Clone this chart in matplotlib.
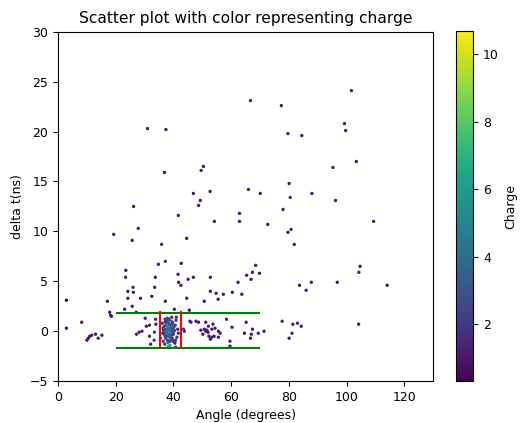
import matplotlib
matplotlib.use("Agg")
import matplotlib.pyplot as plt

plt.rcParams['font.size'] = 9

# points spread out (angle, delta t, charge)
angle = [31.0, 37.4, 36.9, 50.4, 49.6, 46.9, 52.7, 49.3, 48.7, 26.2, 41.7, 62.9, 54.2, 62.9,
         27.8, 19.3, 25.7, 44.6, 101.7, 66.7, 77.4, 99.3, 99.7, 79.7, 84.5, 103.4, 95.3, 80.1,
         66.0, 70.1, 88.0, 80.5, 96.2, 78.0, 109.4, 72.7, 80.8, 79.7, 81.9, 68.5, 67.4, 69.8,
         65.4, 66.9, 104.7, 104.3, 87.8, 83.7, 86.0, 96.8, 114.1, 63.7, 65.2, 77.7, 81.4, 83.0,
         84.3, 104.2, 67.4, 64.6, 67.0, 69.4, 71.4, 66.7, 81.1, 80.1,
         35.9, 37.2, 34.8, 42.7, 23.5, 23.4, 33.7, 41.6, 46.9, 45.1, 52.8, 62.4, 41.8, 42.6,
         33.5, 26.0, 26.1, 24.2, 52.8, 54.8, 57.3, 60.4, 32.5, 28.6, 24.2, 44.6, 55.5, 25.7,
         17.1, 2.9, 37.2, 23.1, 50.7, 45.5, 17.9, 18.2, 18.5, 27.1, 40.3, 8.2, 2.9,
         10.0, 10.5, 11.0, 11.7, 13.0, 15.2, 13.9, 30.2, 33.8, 33.9, 31.7, 30.6, 29.1, 28.1,
         27.2, 31.7, 33.3, 32.1, 33.4, 45.7, 46.1, 47.8, 48.7, 51.2, 52.1, 53.7, 58.4, 43.5,
         43.8, 49.5, 50.7, 51.6, 52.0, 51.2, 53.3, 54.4, 55.6, 56.2, 54.1, 52.8, 50.2, 52.3,
         53.3, 55.6, 59.6, 59.6, 60.3, 40.8, 35.5]
delta_t = [20.3, 20.2, 15.9, 16.5, 16.1, 13.8, 14.0, 13.1, 12.6, 12.5, 11.6, 11.8, 11.0, 11.0,
           10.3, 9.7, 9.1, 9.3, 24.1, 23.1, 22.6, 20.8, 20.1, 19.8, 19.6, 17.0, 16.4, 14.8,
           14.2, 13.8, 13.8, 13.4, 13.1, 12.2, 11.0, 10.7, 10.2, 9.9, 8.7, 6.6, 5.9, 5.8,
           5.6, 5.2, 6.5, 5.9, 4.9, 4.6, 4.1, 4.9, 4.6, 3.7, 0.9, 1.0, 0.7, 0.8,
           0.5, 0.7, 0.2, -0.2, -0.3, -0.2, 0.0, -0.7, -0.2, -0.7,
           8.7, 7.0, 6.7, 6.8, 6.1, 5.4, 5.4, 5.7, 5.4, 5.2, 5.4, 4.9, 4.9, 4.6,
           4.4, 4.4, 3.9, 4.0, 4.0, 3.8, 3.7, 3.9, 3.5, 3.3, 3.3, 3.3, 3.2, 2.5,
           3.0, 3.1, 3.0, 2.2, 3.0, 2.1, 1.9, 1.6, 1.5, 1.9, 2.2, 0.9, 0.3,
           -0.9, -0.7, -0.5, -0.4, -0.3, -0.4, -0.7, 1.3, 1.2, 0.7, 0.6, 0.5, 0.0, -0.1,
           -0.3, -0.5, -0.9, -1.3, -0.1, 1.0, 0.9, 1.0, 0.9, 0.9, 0.5, 0.7, 1.2, 0.2,
           0.0, 0.1, 0.2, 0.1, -0.1, 0.0, 0.2, 0.3, 0.0, -0.2, -0.5, -0.8, -0.3, -0.5,
           -0.6, -0.6, -1.0, -1.5, 0.4, -1.6, -0.7]
charge = [1.0, 1.1, 0.9, 1.0, 1.2, 1.0, 0.9, 1.1, 1.0, 1.0, 1.2, 1.0, 0.9, 1.0,
          1.1, 1.0, 1.0, 0.9, 1.0, 1.1, 1.0, 1.0, 0.9, 1.2, 1.0, 1.0, 1.1, 1.0,
          1.0, 0.9, 1.0, 1.1, 1.0, 1.0, 1.0, 1.2, 1.0, 0.9, 1.0, 1.1, 1.0, 1.0,
          1.0, 0.9, 1.0, 1.2, 1.0, 1.0, 1.1, 1.0, 0.9, 1.0, 1.0, 1.2, 1.0, 1.0,
          1.1, 1.0, 1.0, 0.9, 1.0, 1.1, 1.0, 1.0, 1.2, 1.0,
          1.0, 1.1, 1.0, 0.9, 1.0, 1.2, 1.0, 1.0, 1.1, 1.0, 0.9, 1.0, 1.0, 1.1,
          1.0, 1.2, 1.0, 0.9, 1.0, 1.0, 1.1, 1.0, 1.0, 1.2, 0.9, 1.0, 1.0, 1.1,
          1.0, 0.3, 1.0, 1.1, 1.0, 0.9, 1.0, 1.2, 1.0, 1.0, 1.1, 1.0, 0.9,
          1.0, 1.1, 1.0, 1.2, 1.0, 0.9, 1.0, 1.3, 1.5, 1.2, 1.4, 1.1, 1.3, 1.0,
          1.2, 1.4, 1.6, 1.1, 1.8, 1.5, 1.2, 1.3, 1.0, 1.1, 1.4, 1.0, 1.2, 1.9,
          1.6, 1.2, 1.0, 1.3, 1.1, 1.0, 1.2, 1.1, 1.0, 1.3, 1.0, 1.1, 1.2, 1.0,
          1.1, 1.0, 1.2, 1.0, 1.1, 1.8, 2.0]

# dense cluster between the red lines
cl_angle = [37.2, 37.8, 38.4, 39.0, 39.6, 38.0, 38.7, 39.3, 37.5, 38.1, 38.9, 39.5, 40.1, 37.0,
            37.7, 38.5, 39.2, 39.8, 36.8, 37.4, 38.2, 38.8, 39.4, 40.0, 36.6, 37.3, 38.0, 38.6,
            39.1, 39.7, 40.3, 37.1, 37.9, 38.5, 39.2, 36.9, 37.6, 38.3, 39.0, 39.6, 38.1, 38.8,
            37.4, 39.9, 36.3, 40.6, 41.2, 36.1, 40.9, 41.5, 37.0, 39.4, 38.2, 40.5, 36.5, 38.8,
            41.0, 37.3, 40.2, 39.4, 36.4, 41.7, 37.9, 40.7]
cl_delta = [0.9, 1.0, 0.8, 1.1, 0.7, 0.4, 0.5, 0.3, 0.2, 0.1, 0.0, 0.2, 0.4, -0.1,
            -0.2, -0.3, -0.1, 0.0, 0.5, 0.6, -0.5, -0.6, -0.4, -0.3, 0.1, -0.7, -0.9, 0.7,
            0.6, 0.9, 0.1, 1.2, 1.3, 1.2, -0.8, -0.4, -0.1, 0.3, 0.2, -0.7, -1.1, -1.0,
            1.0, -1.0, -0.2, 0.6, -0.6, 0.8, 1.1, 0.2, -1.3, 1.3, -1.5, -1.2, -1.0, -1.4,
            1.4, -0.5, 0.0, 1.4, 0.3, -0.2, 0.5, -0.9]
cl_charge = [2.4, 2.8, 2.1, 3.2, 2.6, 3.6, 4.2, 3.4, 3.0, 4.4, 3.9, 3.1, 2.4, 3.5,
             4.1, 3.7, 4.6, 2.9, 2.2, 2.7, 3.3, 3.8, 2.6, 2.3, 2.1, 2.5, 2.0, 3.0,
             3.4, 2.2, 2.4, 2.3, 2.9, 1.8, 2.8, 3.2, 4.0, 4.8, 3.6, 2.2, 2.6, 2.1,
             2.0, 1.8, 1.6, 1.9, 1.7, 1.6, 2.0, 1.5, 1.9, 10.7, 7.0, 1.8, 2.1, 6.5,
             1.6, 2.4, 2.7, 1.7, 2.0, 1.5, 5.5, 1.7]

x_lo, x_hi = 35.4, 42.5
y_lo, y_hi = -1.7, 1.8
band_start, band_end = 20, 70

fig, ax = plt.subplots(figsize=(5.23, 4.23), dpi=100)
fig.subplots_adjust(left=0.111, right=0.828, top=0.925, bottom=0.099)

sc = ax.scatter(angle + cl_angle, delta_t + cl_delta, c=charge + cl_charge,
                cmap='viridis', s=2)
ax.hlines([y_hi, y_lo], band_start, band_end, colors='green')
ax.vlines([x_lo, x_hi], y_lo, y_hi + 0.2, colors='red')

ax.set_xlim(0, 130)
ax.set_ylim(-5, 30)
ax.set_xlabel('Angle (degrees)')
ax.set_ylabel('delta t(ns)')
ax.set_title('Scatter plot with color representing charge', fontsize=11.2)

cax = fig.add_axes([0.872, 0.099, 0.033, 0.828])
cb = fig.colorbar(sc, cax=cax)
cb.set_label('Charge')

fig.savefig('out.png')
